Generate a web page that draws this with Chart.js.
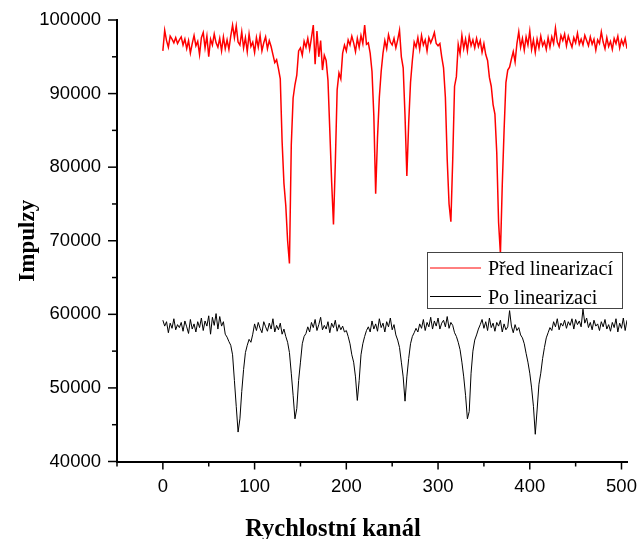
<!DOCTYPE html>
<html>
<head>
<meta charset="utf-8">
<script src="https://cdn.jsdelivr.net/npm/chart.js@4/dist/chart.umd.min.js"></script>
<style>
  html, body { margin: 0; padding: 0; background: #fff; }
  #wrap { width: 638px; height: 539px; }
</style>
</head>
<body>
<div id="wrap"><canvas id="graf" width="638" height="539"></canvas></div>
<script>
// rychlostní kanály 0..510, krok 2
const kanaly = Array.from({ length: 256 }, (_, i) => i * 2);

// Před linearizací (červená)
const pred = [
  95800, 98600, 97200, 96300, 97800, 97400, 96900, 97600, 96800, 97300,
  97700, 96600, 97400, 96100, 97200, 95500, 96800, 97900, 96500, 97100,
  95300, 97600, 98300, 96200, 97800, 95000, 97400, 96600, 98100, 96900,
  96300, 97500, 95800, 97700, 96100, 97300, 96000, 97800, 99300, 97600,
  99200, 97000, 96600, 98400, 96200, 97600, 95700, 98100, 96400, 97000,
  95600, 97600, 96300, 97900, 95800, 96900, 97700, 96100, 97200, 96400,
  95300, 94200, 94600, 93400, 92000, 83500, 77800, 74800, 70000, 66900,
  83000, 89400, 91200, 92500, 95800, 96200, 95200, 97100, 96300, 97500,
  96000, 97600, 99300, 94000, 98500, 95000, 97200, 93200, 95200, 94500,
  91800, 85000, 78000, 72200, 80500, 90500, 92800, 92000, 95500, 96600,
  95800, 97300, 96600, 97800, 96900, 95700, 97500, 96300, 97900, 96800,
  99300, 96700, 96900, 95500, 93000, 87000, 76400, 84000, 89500, 93000,
  95500, 97200, 96100, 98000, 97000, 96600, 97500, 96200, 97300, 98600,
  95000, 93500, 87000, 78800, 86000, 91500, 94500, 97000, 96300, 97600,
  96000, 97900, 96600, 97300, 95800, 97600, 96900, 97500, 98300, 96800,
  96500, 96800, 95000, 93500, 89500, 81000, 75000, 72600, 81000, 91000,
  92300, 96700, 95400, 97900, 96100, 97400, 95800, 97800, 96500, 97300,
  96200, 97500, 96400, 97200, 95600, 96800, 95300, 94500, 92200, 91000,
  88500, 87200, 82000, 72500, 68200, 77500, 85000, 91500, 93200, 93600,
  94700, 95700, 94300, 96800, 98400, 96300, 97500, 95900, 97700, 96600,
  98500, 96000, 97300, 95600, 97400, 96200, 97800, 96500, 97100, 96000,
  97600, 96300, 97700, 96800, 98900, 97000, 96400, 97900, 97200, 98100,
  96500, 97800, 97000, 96300, 97600, 96900, 98200, 96700, 97400, 96600,
  97900, 97200, 96500, 97700, 96700, 97400, 95900, 97300, 96800, 98400,
  97000, 96100, 97600, 96400, 97100, 96000, 97500, 96800, 97800, 96200,
  97300, 96600, 97500, 96100, 97600, 96400
];

// Po linearizaci (černá)
const po = [
  59200, 58400, 59000, 57500, 58800, 58100, 59400, 57900, 58600, 58200,
  58900, 57700, 59100, 58300, 57400, 59300, 58000, 58700, 57600, 59000,
  58200, 59500, 57800, 59100, 58400, 59800, 57300, 59600, 58500, 60100,
  58000, 59700, 58400, 59000, 57300, 56900, 56300, 55800, 54500, 51000,
  47500, 44000, 45800, 49500, 52500, 54800, 55800, 56600, 56200, 57300,
  58700, 57800, 58900, 58100, 57500, 59000, 58300, 57700, 58800, 58000,
  59400, 57600, 58500, 57900, 58800, 57300, 58000, 57000, 56200, 54800,
  52000, 49000, 45800, 47200, 51000, 53500, 56000, 57000, 57400, 58300,
  57600, 58900, 58200, 59300, 57800, 58600, 59600, 57900, 58500, 58000,
  59000, 57500, 58800, 58200, 59200, 57700, 58600, 57900, 58400, 57600,
  57800, 57000, 56000, 54500, 53500, 51500, 48300, 51000, 54500, 56000,
  57000, 57800, 58300, 57600, 59100, 58000, 58700, 57700, 59400, 58200,
  58800, 57600, 59000, 58300, 59500, 57900, 58600, 57200, 56500, 55500,
  53500, 51500, 48200, 51500, 54000, 56000, 57000, 57500, 58100, 57600,
  58700, 58100, 59300, 57800, 58900, 58300, 59600, 58000, 59100, 58400,
  59500, 58000, 58800, 59200, 58300, 59700, 58100, 58900, 58500, 57500,
  57000, 56200, 55200, 53500, 51500, 49000, 45800, 46800, 52000, 55000,
  56500, 57200, 58000, 58600, 59300, 58100, 59000, 57800, 59500, 58200,
  58800, 57700, 58900, 58400, 59200, 57600, 58700, 57900, 58300, 60500,
  58400, 57500, 58600, 57800, 58200, 57200, 56800, 56000, 54700, 53500,
  52000, 50000, 47500, 43700, 47000, 50500, 52000, 54000, 55500, 56800,
  57500, 58200, 57800, 59000, 58300, 59400, 57900, 58800, 58400, 59200,
  58100, 59000, 58500, 59400, 58000, 59300, 58600, 59100, 58300, 60700,
  58800, 59500, 58200, 58900, 57900, 59200, 58400, 58700, 57800, 59000,
  58300, 59300, 58000, 58600, 57700, 58900, 58200, 59400, 57600, 58800,
  58100, 59500, 57800, 59200, 58300, 58900
];

const xHlavni = [0, 100, 200, 300, 400, 500];
const xVedlejsi = [-50, 50, 150, 250, 350, 450];
const yHlavni = [40000, 50000, 60000, 70000, 80000, 90000, 100000];
const yVedlejsi = [45000, 55000, 65000, 75000, 85000, 95000];

const popisky = ["Před linearizací", "Po linearizaci"];
const barvy = ["#ff0000", "#000000"];
const nazevX = "Rychlostní kanál";
const nazevY = "Impulzy";

// carky na osach (hlavni + vedlejsi) a popis osy x
const carky = {
  id: "carky",
  afterDraw(chart) {
    const { ctx, scales: { x, y } } = chart;
    ctx.save();
    ctx.strokeStyle = "#000";
    ctx.lineWidth = 1.5;
    const cara = (x1, y1, x2, y2) => { ctx.beginPath(); ctx.moveTo(x1, y1); ctx.lineTo(x2, y2); ctx.stroke(); };
    xHlavni.forEach(v => { const p = x.getPixelForValue(v); cara(p, y.bottom, p, y.bottom + 8); });
    xVedlejsi.forEach(v => { const p = x.getPixelForValue(v); cara(p, y.bottom, p, y.bottom + 5); });
    yHlavni.forEach(v => { const p = y.getPixelForValue(v); cara(x.left, p, x.left - 9, p); });
    yVedlejsi.forEach(v => { const p = y.getPixelForValue(v); cara(x.left, p, x.left - 5, p); });
    // nazev osy x (v originale posunuty doleva)
    ctx.fillStyle = "#000";
    ctx.font = "bold 24.5px 'Liberation Serif', serif";
    ctx.textAlign = "center";
    ctx.textBaseline = "alphabetic";
    ctx.fillText(nazevX, 333, 536);
    ctx.restore();
  }
};

// legenda uvnitr grafu
const legenda = {
  id: "legenda",
  afterDatasetsDraw(chart) {
    const { ctx } = chart;
    ctx.save();
    ctx.fillStyle = "#fff";
    ctx.fillRect(427, 252, 196, 57);
    ctx.strokeStyle = "#444";
    ctx.lineWidth = 1;
    ctx.strokeRect(427.5, 252.5, 195, 56);
    ctx.font = "20px 'Liberation Serif', serif";
    ctx.textBaseline = "alphabetic";
    popisky.forEach((t, i) => {
      const yy = 268 + i * 28.5;
      ctx.strokeStyle = barvy[i];
      ctx.lineWidth = 1;
      ctx.beginPath(); ctx.moveTo(430, yy); ctx.lineTo(481, yy); ctx.stroke();
      ctx.fillStyle = "#000";
      ctx.fillText(t, 488, yy + 7);
    });
    ctx.restore();
  }
};

const ctx = document.getElementById("graf").getContext("2d");
new Chart(ctx, {
  type: "line",
  data: {
    labels: kanaly,
    datasets: [
      { label: popisky[0], data: pred, borderColor: barvy[0], borderWidth: 1.5, pointRadius: 0, tension: 0 },
      { label: popisky[1], data: po, borderColor: barvy[1], borderWidth: 1, pointRadius: 0, tension: 0 }
    ]
  },
  options: {
    responsive: false,
    animation: false,
    devicePixelRatio: 1,
    layout: { padding: { top: 20, right: 11, left: 0, bottom: 0 } },
    plugins: { legend: { display: false }, tooltip: { enabled: false } },
    scales: {
      x: {
        type: "linear",
        min: -50,
        max: 506,
        afterBuildTicks: s => { s.ticks = xHlavni.map(v => ({ value: v })); },
        afterFit: s => { s.height = 77.5; s.paddingLeft = 0; s.paddingRight = 0; },
        grid: { display: false, drawTicks: false },
        border: { display: true, color: "#000", width: 2 },
        ticks: { color: "#000", padding: 14, maxRotation: 0, callback: v => String(v), font: { family: "'Liberation Sans', Arial, sans-serif", size: 18.5 } }
      },
      y: {
        min: 40000,
        max: 100000,
        afterBuildTicks: s => { s.ticks = yHlavni.map(v => ({ value: v })); },
        afterFit: s => { s.width = 117; s.paddingTop = 0; s.paddingBottom = 0; },
        grid: { display: false, drawTicks: false },
        border: { display: true, color: "#000", width: 2 },
        ticks: { color: "#000", padding: 16, callback: v => String(v), font: { family: "'Liberation Sans', Arial, sans-serif", size: 18.5 } },
        title: { display: true, text: nazevY, color: "#000", padding: { top: 14, bottom: 0 }, font: { family: "'Liberation Serif', serif", size: 23, weight: "bold" } }
      }
    }
  },
  plugins: [carky, legenda]
});
</script>
</body>
</html>
